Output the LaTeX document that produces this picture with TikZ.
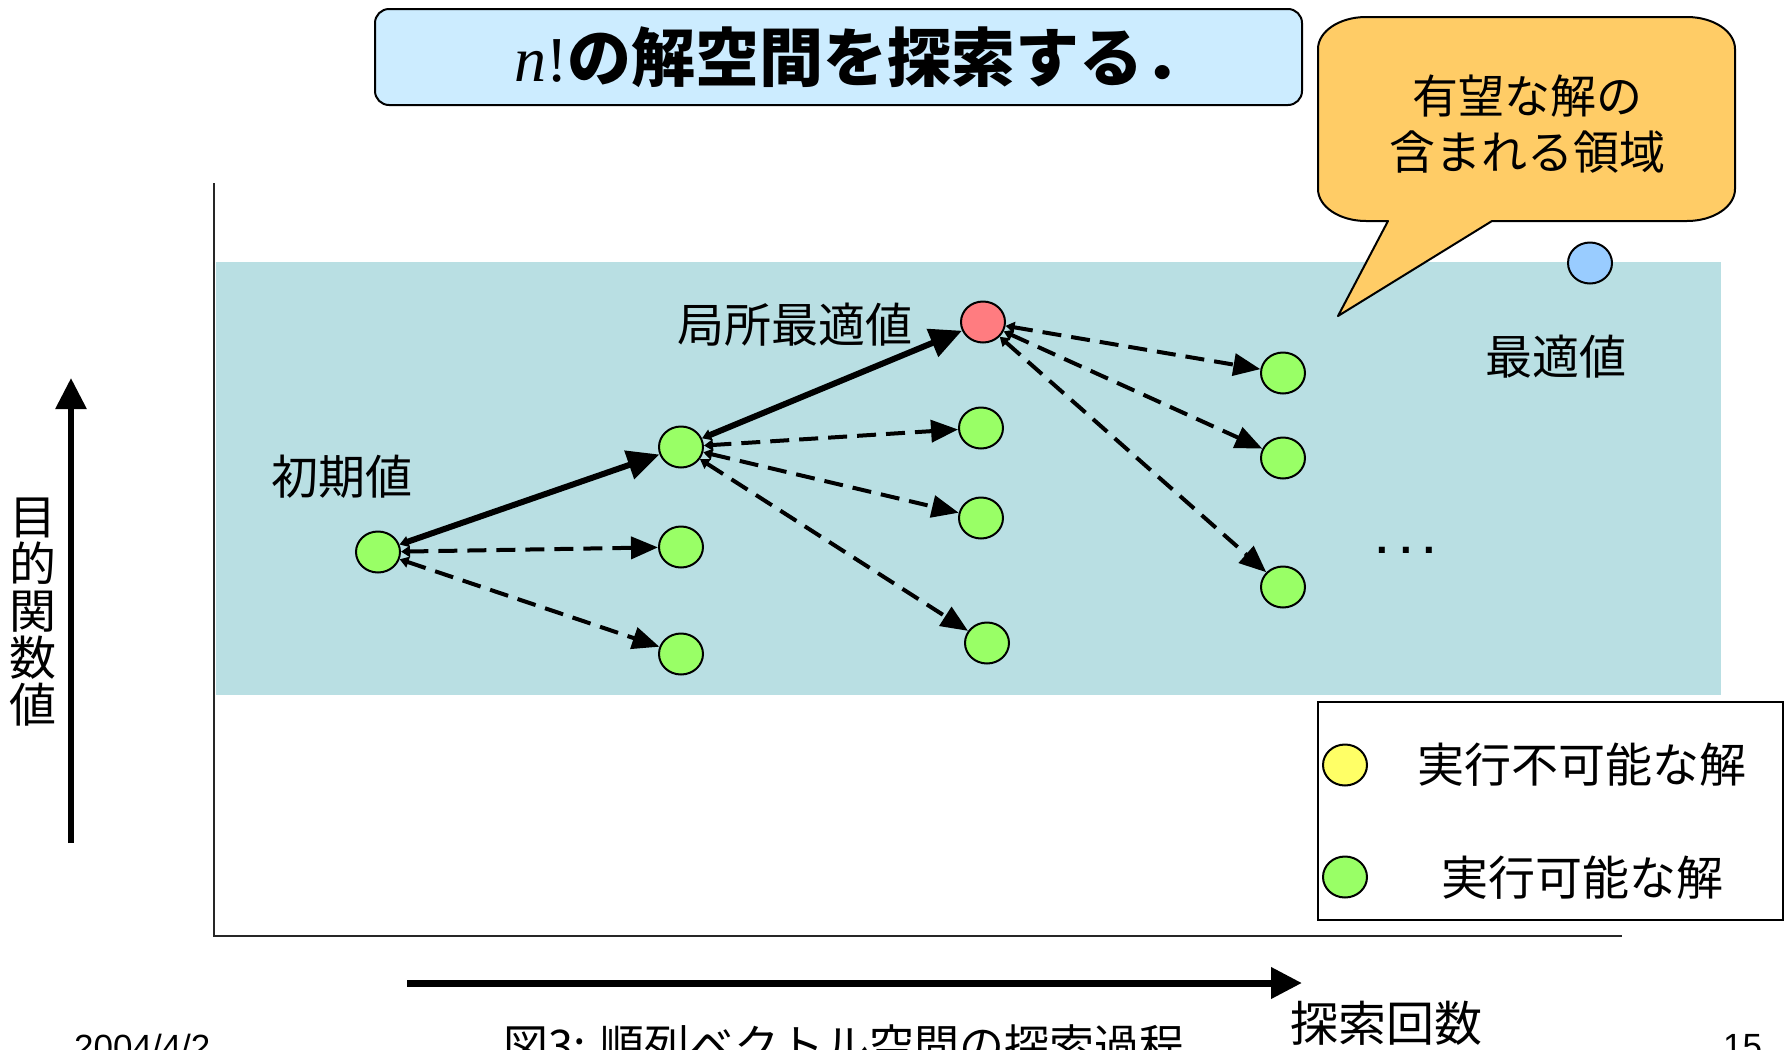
\documentclass[tikz,border=0pt]{standalone}
\usepackage{fontspec}
\setmainfont{Noto Sans CJK JP}
\newfontfamily\serifit{Liberation Serif}
\newfontfamily\arial{Liberation Sans}
\usetikzlibrary{arrows.meta,shapes.geometric}
\definecolor{bandc}{HTML}{B9DFE3}
\definecolor{titlefill}{HTML}{CCECFF}
\definecolor{callfill}{HTML}{FFCC66}
\definecolor{gfill}{HTML}{99FF66}
\definecolor{rfill}{HTML}{FF7C80}
\definecolor{bfill}{HTML}{99CCFF}
\definecolor{yfill}{HTML}{FFFF66}
\tikzset{
  sol/.style={ellipse, draw=black, line width=2pt, minimum width=44pt, minimum height=41pt, inner sep=0pt},
  gsol/.style={sol, fill=gfill},
  lab/.style={inner sep=0pt, font=\fontsize{47}{50}\selectfont},
  solidarr/.style={line width=6pt, {Triangle[length=9pt,width=11pt]}-{Triangle[length=32pt,width=29pt]}},
  dasharr/.style={line width=4pt, dash pattern=on 19pt off 10pt, {Triangle[length=9pt,width=11pt]}-{Triangle[length=27pt,width=22pt]}},
  bigarr/.style={line width=6pt, -{Triangle[length=31pt,width=30pt]}}
}
\begin{document}
\begin{tikzpicture}[x=1pt,y=-1pt]
\clip (0,0) rectangle (1792,1050);
\fill[white] (0,0) rectangle (1792,1050);
% band
\fill[bandc] (216,262) rectangle (1721,695);
% axes
\coordinate (ytop) at (214,183);
\coordinate (origin) at (214,936);
\coordinate (xend) at (1622,936);
\draw[line width=2.5pt, black!85] (ytop) -- (origin) -- (xend);
% title
\draw[fill=titlefill, line width=2pt, rounded corners=14pt] (375,9) rectangle (1302,105);
\node[anchor=west, inner sep=0pt, font=\fontsize{64}{68}\selectfont\bfseries] (title) at (514,57)
  {{\serifit\mdseries\itshape n}{\serifit\mdseries !}の解空間を探索する．};
% callout
\filldraw[fill=callfill, draw=black, line width=2pt, line join=round]
 (1388,221) -- (1366,221)
 arc[start angle=90, end angle=180, x radius=48, y radius=32]
 -- (1318,49)
 arc[start angle=180, end angle=270, x radius=48, y radius=32]
 -- (1687,17)
 arc[start angle=270, end angle=360, x radius=48, y radius=32]
 -- (1735,189)
 arc[start angle=0, end angle=90, x radius=48, y radius=32]
 -- (1492,221) -- (1338,316) -- cycle;
\node[align=center, inner sep=0pt, font=\fontsize{46}{56}\selectfont] (calltext) at (1527,124) {有望な解の\\含まれる領域};
% solution nodes
\node[gsol] (init) at (378,552) {};
\node[gsol] (a1) at (681,447) {};
\node[gsol] (a2) at (681,547) {};
\node[gsol] (a3) at (681,654) {};
\node[sol, fill=rfill] (red) at (983,322) {};
\node[gsol] (b1) at (981,428) {};
\node[gsol] (b2) at (981,518) {};
\node[gsol] (b3) at (987,643) {};
\node[gsol] (c1) at (1283,373) {};
\node[gsol] (c2) at (1283,458) {};
\node[gsol] (c3) at (1283,587) {};
\node[sol, fill=bfill] (best) at (1590,263) {};
% labels
\node[lab] (linit) at (342,477) {初期値};
\node[lab] (llocal) at (795,325) {局所最適値};
\node[lab] (lbest) at (1556,357) {最適値};
\node[anchor=base, inner sep=0pt, font=\arial\bfseries\fontsize{42}{44}\selectfont] (dots) at (1406,553) {.\ .\ .};
% arrows
\draw[solidarr] (init) -- (a1);
\draw[solidarr] (a1) -- (red);
\draw[dasharr] (init) -- (a2);
\draw[dasharr] (init) -- (a3);
\draw[dasharr] (a1) -- (b1);
\draw[dasharr] (a1) -- (b2);
\draw[dasharr] (a1) -- (b3);
\draw[dasharr] (red) -- (c1);
\draw[dasharr] (red) -- (c2);
\draw[dasharr] (red) -- (c3);
% legend
\draw[line width=2pt, fill=white] (1318,702) rectangle (1783,920);
\node[sol, fill=yfill] (ly) at (1345,765) {};
\node[gsol] (lg) at (1345,877) {};
\node[lab] (lytext) at (1582,765) {実行不可能な解};
\node[lab] (lgtext) at (1582,878) {実行可能な解};
% big axis arrows
\coordinate (yb) at (71,843);
\coordinate (yt) at (71,378);
\draw[bigarr] (yb) -- (yt);
\node[align=center, inner sep=0pt, font=\fontsize{47}{47}\selectfont] (ylab) at (33,612) {目\\的\\関\\数\\値};
\coordinate (xb) at (407,983);
\coordinate (xt) at (1302,983);
\draw[bigarr, line width=7pt] (xb) -- (xt);
\node[lab, font=\fontsize{48}{50}\selectfont] (xlab) at (1386,1023) {探索回数};
% footer
\node[anchor=north west, inner sep=0pt, font=\fontsize{45}{48}\selectfont] (cap) at (503,1024) {図3: 順列ベクトル空間の探索過程};
\node[anchor=north west, inner sep=0pt, font=\arial\fontsize{35}{38}\selectfont] (date) at (74,1034) {2004/4/2};
\node[anchor=north west, inner sep=0pt, font=\arial\fontsize{35}{38}\selectfont] (page) at (1723,1034) {15};
\end{tikzpicture}
\end{document}
